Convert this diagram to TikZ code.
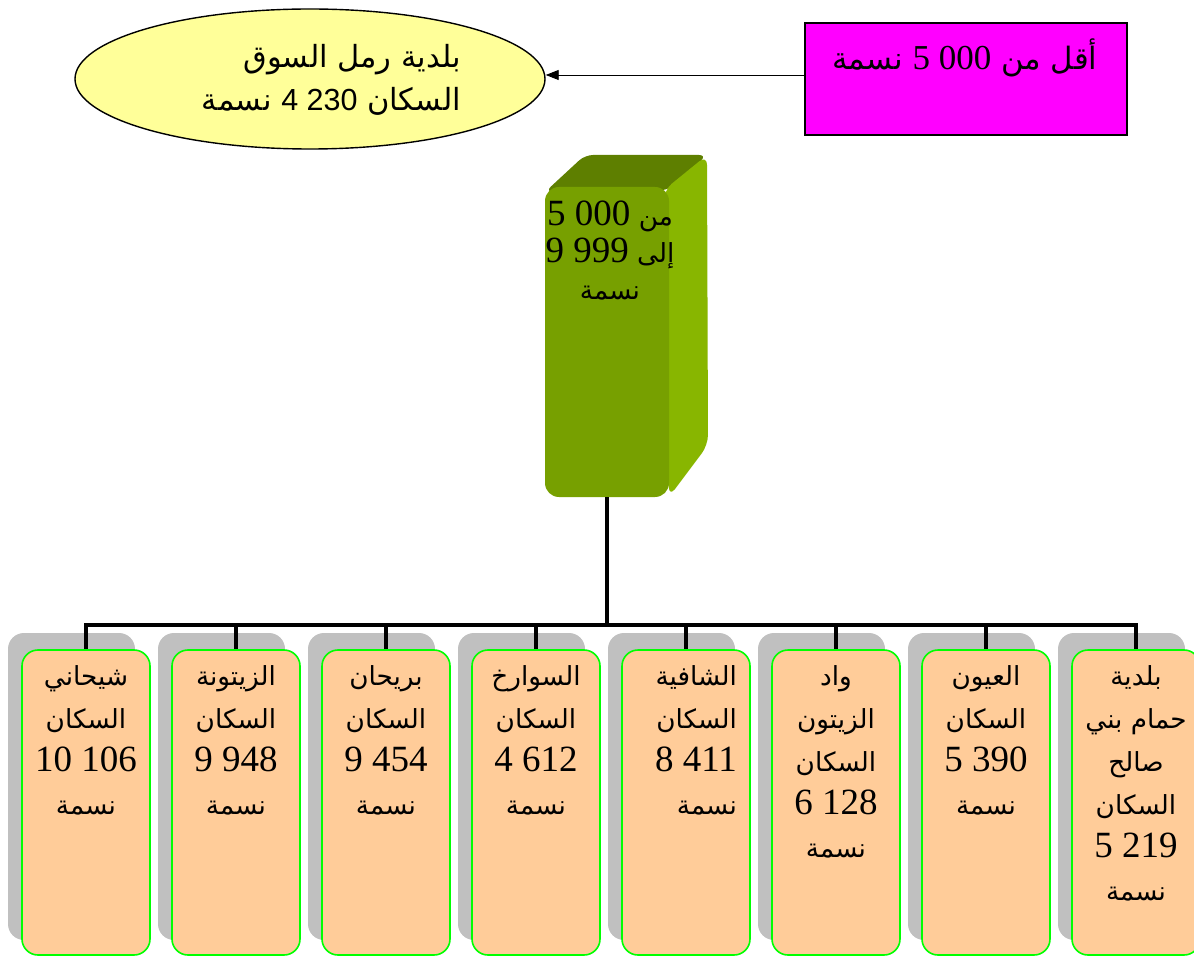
\documentclass[tikz,border=0pt]{standalone}
\usepackage{fontspec}
\setmainfont{Liberation Serif}
\setsansfont{Liberation Sans}
\newfontfamily\arfont[Script=Arabic,Scale=0.71]{DejaVu Sans}
\newfontfamily\armag[Script=Arabic,Scale=0.88]{DejaVu Sans}
\newfontfamily\arsans[Script=Arabic]{DejaVu Sans}
\TeXXeTstate=1
\usetikzlibrary{arrows.meta,shapes.geometric,calc}
\definecolor{ellyellow}{HTML}{FFFF99}
\definecolor{magbox}{HTML}{FF00FF}
\definecolor{gfront}{HTML}{77A000}
\definecolor{gtop}{HTML}{5E7F00}
\definecolor{gside}{HTML}{88B600}
\definecolor{peach}{HTML}{FFCC99}
\definecolor{boxgreen}{HTML}{00FF00}
\definecolor{shadowc}{HTML}{C0C0C0}
\newcommand\nm[1]{\beginL{\rmfamily #1}\endL{}}
\newcommand\nmsans[1]{\beginL{\sffamily #1}\endL{}}
\newcommand\artx[1]{{\arfont\beginR #1\endR}}
\newcommand\armagtx[1]{{\armag\beginR #1\endR}}
\newcommand\arsanstx[1]{{\arsans\beginR #1\endR}}
\begin{document}
\begin{tikzpicture}[x=1pt,y=-1pt,
  txt/.style={font=\fontsize{37}{43}\selectfont, inner sep=0pt},
  mtxt/.style={font=\fontsize{35}{43}\selectfont, inner sep=0pt},
  etxt/.style={font=\fontsize{30.5}{43}\selectfont, inner sep=0pt, align=right},
  gtxt/.style={font=\fontsize{37}{37}\selectfont, inner sep=0pt, align=center},
  boxst/.style={draw=boxgreen, line width=1.6pt, fill=peach, rounded corners=16pt,
    minimum width=128pt, minimum height=305pt, inner sep=0pt},
  shad/.style={fill=shadowc, rounded corners=16pt},
  conn/.style={line width=4.5pt, black},
  arr/.style={-{Triangle[length=13pt,width=10pt]}, line width=0.9pt}]
\useasboundingbox (0,0) rectangle (1194,957);

% top left ellipse
\node[ellipse, draw, line width=1.4pt, fill=ellyellow, minimum width=470pt,
  minimum height=140pt, inner sep=0pt] (ell) at (310,79) {};
\node[etxt, anchor=east] (elltext) at (461,80)
  {\arsanstx{بلدية رمل السوق}\\\arsanstx{السكان \nmsans{4 230} نسمة}};

% magenta box
\node[draw, line width=1.3pt, fill=magbox, minimum width=322pt,
  minimum height=112pt, inner sep=0pt] (mag) at (966,79) {};
\node[mtxt] (magtext) at (965,58) {\armagtx{أقل من \nm{5 000} نسمة}};
\draw[arr] ([yshift=4pt]mag.west) -- ([yshift=4pt]ell.east);

% green 3D block
\fill[gtop, rounded corners=8pt] (545,192) -- (585,155) -- (707,155) -- (669,190) -- cycle;
\fill[gside, rounded corners=10pt] (664,190) -- (707,155) -- (708,445) -- (669,497) -- cycle;
\node[fill=gfront, rounded corners=14pt, minimum width=124pt, minimum height=310pt,
  inner sep=0pt] (g) at (607,342) {};
\node[gtxt] (gtext) at (610,251)
  {\artx{من \nm{5 000}}\\\artx{إلى \nm{9 999}}\\\artx{نسمة}};

% bottom boxes
\foreach \i/\al/\dx/\t in {
  0/center/0/{\artx{شيحاني}\\\artx{السكان}\\10 106\\\artx{نسمة}},
  1/center/0/{\artx{الزيتونة}\\\artx{السكان}\\9 948\\\artx{نسمة}},
  2/center/0/{\artx{بريحان}\\\artx{السكان}\\9 454\\\artx{نسمة}},
  3/center/0/{\artx{السوارخ}\\\artx{السكان}\\4 612\\\artx{نسمة}},
  4/right/10/{\artx{الشافية}\\\artx{السكان}\\8 411\\\artx{نسمة}},
  5/center/0/{\artx{واد}\\\artx{الزيتون}\\\artx{السكان}\\6 128\\\artx{نسمة}},
  6/center/0/{\artx{العيون}\\\artx{السكان}\\5 390\\\artx{نسمة}},
  7/center/0/{\artx{بلدية}\\\artx{حمام بني}\\\artx{صالح}\\\artx{السكان}\\5 219\\\artx{نسمة}}}
{
  \fill[shad] (8+150*\i,633) rectangle ++(127,307);
  \node[boxst] (b\i) at (86+150*\i,802.5) {};
  \node[txt, align=\al, anchor=north] (t\i) at (86+150*\i+\dx,655)
    {\rule{0pt}{30pt}\t};
}

% connectors
\foreach \i in {0,...,7}
  \draw[conn] (g.south) -- ++(0,128) -| (b\i.north);
\end{tikzpicture}
\end{document}
